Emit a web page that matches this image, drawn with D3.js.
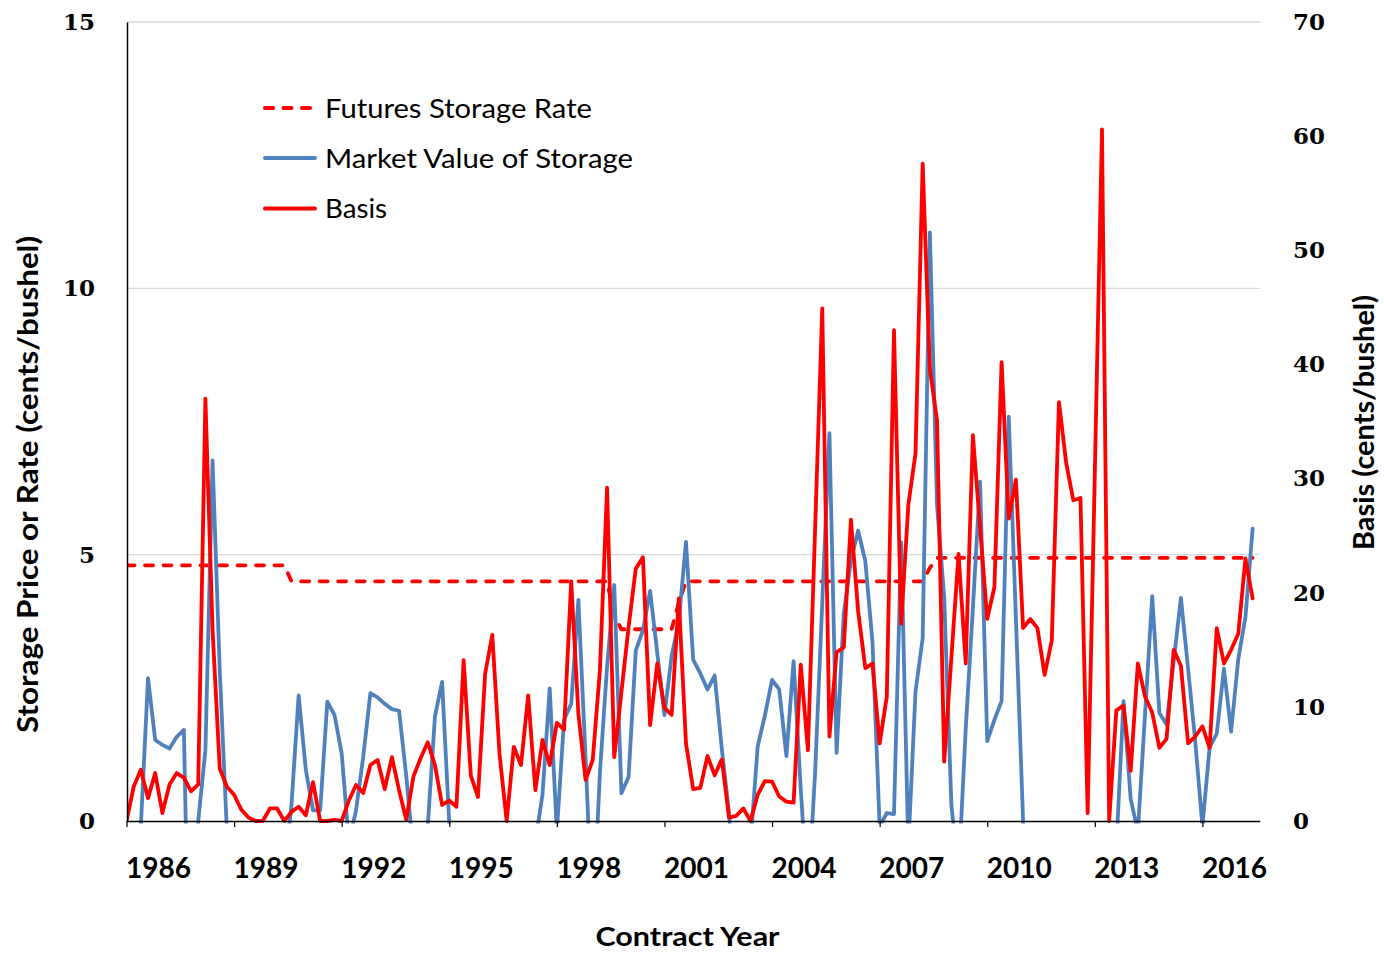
<!DOCTYPE html>
<html><head><meta charset="utf-8">
<script src="https://cdn.jsdelivr.net/npm/d3@7"></script>
<style>body{margin:0;background:#fff}svg{display:block}</style>
</head><body><svg id="c" width="1384" height="953"></svg>
<script>
// Contracts: 5 corn contracts per year (Mar, May, Jul, Sep, Dec), starting 1986
const futuresStorageRate = [
4.8,4.8,4.8,4.8,4.8,4.8,4.8,4.8,4.8,4.8,
4.8,4.8,4.8,4.8,4.8,4.8,4.8,4.8,4.8,4.8,
4.8,4.8,4.8,4.5,4.5,4.5,4.5,4.5,4.5,4.5,
4.5,4.5,4.5,4.5,4.5,4.5,4.5,4.5,4.5,4.5,
4.5,4.5,4.5,4.5,4.5,4.5,4.5,4.5,4.5,4.5,
4.5,4.5,4.5,4.5,4.5,4.5,4.5,4.5,4.5,4.5,
4.5,4.5,4.5,4.5,4.5,4.5,4.5,4.5,3.85,3.6,
3.6,3.6,3.6,3.6,3.6,3.6,3.6,4.1,4.5,4.5,
4.5,4.5,4.5,4.5,4.5,4.5,4.5,4.5,4.5,4.5,
4.5,4.5,4.5,4.5,4.5,4.5,4.5,4.5,4.5,4.5,
4.5,4.5,4.5,4.5,4.5,4.5,4.5,4.5,4.5,4.5,
4.5,4.5,4.75,4.94,4.94,4.94,4.94,4.94,4.94,4.94,
4.94,4.94,4.94,4.94,4.94,4.94,4.94,4.94,4.94,4.94,
4.94,4.94,4.94,4.94,4.94,4.94,4.94,4.94,4.94,4.94,
4.94,4.94,4.94,4.94,4.94,4.94,4.94,4.94,4.94,4.94,
4.94,4.94,4.94,4.94,4.94,4.94,4.94,4.94];

const marketValueOfStorage = [
-1.5,-2.0,-0.1,2.68,1.52,1.43,1.36,1.58,1.71,-5.0,
0.0,1.33,6.77,2.83,-0.2,-1.5,-2.0,-2.5,-2.0,-2.0,
-1.5,-1.5,-1.0,0.3,2.36,0.96,0.2,0.2,2.24,1.99,
1.27,-0.4,0.2,1.2,2.4,2.32,2.2,2.1,2.07,0.85,
-0.6,-1.5,-0.1,1.96,2.61,-0.05,-1.5,-2.0,-2.5,-2.0,
-2.0,-2.5,-2.0,-1.5,-2.0,-1.5,-1.0,-0.4,0.5,2.49,
-0.2,1.9,2.2,4.15,1.19,-2.0,0.9,2.9,4.43,0.52,
0.83,3.2,3.58,4.32,3.15,1.99,3.1,3.74,5.24,3.03,
2.77,2.47,2.73,1.35,0.15,-1.5,-1.2,-0.4,1.4,1.98,
2.65,2.47,1.22,3.0,0.6,-1.5,0.9,4.1,7.28,1.28,
3.9,4.9,5.45,4.88,3.36,-0.1,0.15,0.13,5.23,-0.5,
2.43,3.43,11.05,5.93,4.2,0.3,-1.0,1.73,4.0,6.37,
1.5,1.9,2.25,7.59,3.8,0.0,-1.5,-2.0,-2.5,-2.0,
-2.5,-3.0,-2.0,-2.5,-3.0,-2.0,-1.5,-1.0,-0.5,2.25,
0.41,-0.2,2.0,4.22,2.03,1.81,3.0,4.19,2.86,1.5,
-0.1,1.38,1.64,2.86,1.68,3.04,3.83,5.49];

const basis = [
0,3.0,4.5,2.0,4.2,0.7,3.2,4.2,3.8,2.6,
3.2,37.0,16.7,4.6,3.0,2.3,1.0,0.3,0,0,
1.1,1.1,0,0.8,1.25,0.5,3.4,0,0,0.1,
0,1.8,3.15,2.45,4.9,5.35,2.8,5.6,2.7,0.1,
3.9,5.5,6.9,4.9,1.4,1.8,1.25,14.1,4.0,2.1,
12.9,16.3,5.9,0,6.5,4.9,11.0,2.7,7.1,4.9,
8.6,8.0,21.0,9.4,3.6,5.35,13.2,29.2,5.6,11.3,
17.0,22.1,23.1,8.4,13.8,9.9,9.3,19.5,6.8,2.8,
2.9,5.7,4.0,5.4,0.3,0.45,1.1,0,2.3,3.5,
3.45,2.15,1.7,1.6,13.7,6.2,25.5,44.9,7.4,14.8,
15.2,26.4,18.4,13.4,13.8,6.8,10.9,43.0,17.3,27.7,
32.2,57.6,39.6,35.1,5.2,14.3,23.4,13.8,33.8,25.7,
17.7,20.5,40.2,26.5,29.9,16.9,17.7,16.9,12.8,15.8,
36.7,31.4,28.1,28.3,0.7,30.5,60.6,0,9.7,10.1,
4.4,13.8,10.9,9.5,6.4,7.2,15.0,13.6,6.8,7.4,
8.3,6.4,16.9,13.8,15.0,16.4,23.0,19.5];

const tickYears = [1986,1989,1992,1995,1998,2001,2004,2007,2010,2013,2016];
const tickContractIndex = [0,15,30,45,60,75,90,105,120,135,150];
const leftTicks = [0,5,10,15];
const rightTicks = [0,10,20,30,40,50,60,70];
const legendLabels = ["Futures Storage Rate","Market Value of Storage","Basis"];

const RED = "#FF0000", BLUE = "#4F81BD";
const svg = d3.select("#c");
svg.append("rect").attr("width",1384).attr("height",953).attr("fill","#fff");

const P = {l:127, r:1260, t:22, b:821};
const x = d3.scaleLinear().domain([0,158]).range([126.5,1259.8]);
const yL = d3.scaleLinear().domain([0,15]).range([P.b,P.t]);
const yR = d3.scaleLinear().domain([0,70]).range([P.b,P.t]);

// gridlines
svg.append("g").selectAll("line").data(leftTicks.filter(d=>d>0)).join("line")
  .attr("x1",P.l).attr("x2",P.r).attr("y1",d=>yL(d)).attr("y2",d=>yL(d))
  .attr("stroke","#D9D9D9").attr("stroke-width",1.3);

svg.append("clipPath").attr("id","clip").append("rect")
  .attr("x",P.l).attr("y",P.t-4).attr("width",P.r-P.l+2).attr("height",P.b-P.t+6.5);

const lineL = d3.line().x((d,i)=>x(i)).y(d=>yL(d));
const lineR = d3.line().x((d,i)=>x(i)).y(d=>yR(d));
const gl = svg.append("g").attr("clip-path","url(#clip)");
gl.append("path").attr("d",lineL(futuresStorageRate)).attr("fill","none")
  .attr("stroke",RED).attr("stroke-width",3.8).attr("stroke-dasharray","8,10.5")
  .attr("stroke-linecap","round").attr("stroke-linejoin","round");
gl.append("path").attr("d",lineL(marketValueOfStorage)).attr("fill","none")
  .attr("stroke",BLUE).attr("stroke-width",3.8).attr("stroke-linejoin","round").attr("stroke-linecap","round");
gl.append("path").attr("d",lineR(basis)).attr("fill","none")
  .attr("stroke",RED).attr("stroke-width",3.8).attr("stroke-linejoin","round").attr("stroke-linecap","round");

// axes
const xAxis = d3.axisBottom(x).tickValues(tickContractIndex)
  .tickFormat((d,i)=>tickYears[i]).tickSize(6).tickSizeOuter(0).tickPadding(31);
const gx = svg.append("g").attr("transform",`translate(0,${P.b})`).call(xAxis);
gx.select(".domain").attr("stroke","#000").attr("stroke-width",1.5);
gx.selectAll(".tick line").attr("stroke","#000").attr("stroke-width",1.2);
gx.selectAll(".tick text").attr("dx",31.5).attr("fill","#000")
  .style("font-family","Lato, 'Liberation Sans', sans-serif").style("font-weight","700").style("font-size","28px");

const gyl = svg.append("g").attr("transform",`translate(${P.l},0)`)
  .call(d3.axisLeft(yL).tickValues(leftTicks).tickSize(0).tickSizeOuter(0).tickPadding(32));
gyl.select(".domain").attr("stroke","#000").attr("stroke-width",1.5);
gyl.selectAll(".tick text").attr("fill","#000")
  .style("font-family","'DejaVu Serif', serif").style("font-weight","700").style("font-size","23px");

const gyr = svg.append("g").attr("transform",`translate(${P.r},0)`)
  .call(d3.axisRight(yR).tickValues(rightTicks).tickSize(0).tickSizeOuter(0).tickPadding(33));
gyr.select(".domain").remove();
gyr.selectAll(".tick text").attr("fill","#000")
  .style("font-family","'DejaVu Serif', serif").style("font-weight","700").style("font-size","23px");

// titles
const tfont = "Lato, 'Liberation Sans', sans-serif";
svg.append("text").attr("transform","translate(27,484.5) rotate(-90)")
  .attr("text-anchor","middle").attr("dominant-baseline","central")
  .attr("textLength",497).attr("lengthAdjust","spacingAndGlyphs")
  .style("font-family",tfont).style("font-weight","700").style("font-size","28px")
  .text("Storage Price or Rate (cents/bushel)");
svg.append("text").attr("transform","translate(1363,422.5) rotate(-90)")
  .attr("text-anchor","middle").attr("dominant-baseline","central")
  .attr("textLength",255).attr("lengthAdjust","spacingAndGlyphs")
  .style("font-family",tfont).style("font-weight","700").style("font-size","28px")
  .text("Basis (cents/bushel)");
svg.append("text").attr("x",687.5).attr("y",946).attr("text-anchor","middle")
  .attr("textLength",184).attr("lengthAdjust","spacingAndGlyphs")
  .style("font-family",tfont).style("font-weight","700").style("font-size","27px")
  .text("Contract Year");

// legend
const legY = [108,158,208.5];
const legW = [267,308,62];
const lg = svg.append("g");
legendLabels.forEach((lab,i)=>{
  const ln = lg.append("line").attr("x1",265).attr("x2",315).attr("y1",legY[i]).attr("y2",legY[i])
    .attr("stroke", i===1?BLUE:RED).attr("stroke-width",4).attr("stroke-linecap","round");
  if(i===0) ln.attr("stroke-dasharray","8,10.5");
  lg.append("text").attr("x",325).attr("y",legY[i]+9.5)
    .attr("textLength",legW[i]).attr("lengthAdjust","spacingAndGlyphs")
    .style("font-family",tfont).style("font-size","26.5px").style("fill","#000")
    .text(lab);
});
</script></body></html>
